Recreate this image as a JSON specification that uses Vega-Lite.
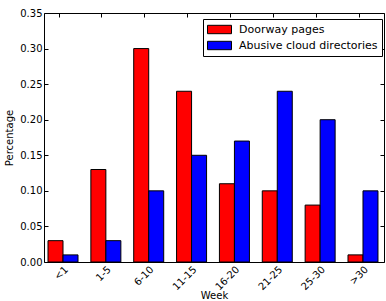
{
  "$schema": "https://vega.github.io/schema/vega-lite/v6.json",
  "width": 340,
  "height": 249,
  "autosize": "none",
  "padding": {"left": 44, "top": 13, "right": 2, "bottom": 39},
  "background": "white",
  "config": {
    "font": "DejaVu Sans",
    "view": {"stroke": "black", "strokeWidth": 1},
    "axis": {"grid": false, "domain": false, "tickColor": "black", "labelColor": "black", "titleColor": "black", "labelFontSize": 10, "titleFontSize": 10, "titleFontWeight": "normal", "tickSize": -4, "labelPadding": 6}
  },
  "data": {
    "values": [
      {"week": "<1", "series": "Doorway pages", "value": 0.03},
      {"week": "<1", "series": "Abusive cloud directories", "value": 0.01},
      {"week": "1-5", "series": "Doorway pages", "value": 0.13},
      {"week": "1-5", "series": "Abusive cloud directories", "value": 0.03},
      {"week": "6-10", "series": "Doorway pages", "value": 0.30},
      {"week": "6-10", "series": "Abusive cloud directories", "value": 0.10},
      {"week": "11-15", "series": "Doorway pages", "value": 0.24},
      {"week": "11-15", "series": "Abusive cloud directories", "value": 0.15},
      {"week": "16-20", "series": "Doorway pages", "value": 0.11},
      {"week": "16-20", "series": "Abusive cloud directories", "value": 0.17},
      {"week": "21-25", "series": "Doorway pages", "value": 0.10},
      {"week": "21-25", "series": "Abusive cloud directories", "value": 0.24},
      {"week": "25-30", "series": "Doorway pages", "value": 0.08},
      {"week": "25-30", "series": "Abusive cloud directories", "value": 0.20},
      {"week": ">30", "series": "Doorway pages", "value": 0.01},
      {"week": ">30", "series": "Abusive cloud directories", "value": 0.10}
    ]
  },
  "encoding": {
    "x": {
      "field": "week", "type": "nominal",
      "sort": ["<1", "1-5", "6-10", "11-15", "16-20", "21-25", "25-30", ">30"],
      "scale": {"paddingInner": 0.3, "paddingOuter": 0.117, "align": 0.4}
    },
    "xOffset": {"field": "series", "type": "nominal", "sort": ["Doorway pages", "Abusive cloud directories"]},
    "y": {
      "field": "value", "type": "quantitative",
      "scale": {"domain": [0, 0.35], "nice": false, "zero": true}
    }
  },
  "layer": [
    {
      "mark": {"type": "bar", "stroke": "black", "strokeWidth": 1},
      "encoding": {
        "x": {
          "field": "week", "type": "nominal",
          "sort": ["<1", "1-5", "6-10", "11-15", "16-20", "21-25", "25-30", ">30"],
          "title": "Week",
          "axis": {"labelAngle": -45, "labelAlign": "right", "labelBaseline": "top", "bandPosition": 0.37, "titleY": 33, "titleBaseline": "middle"}
        },
        "y": {
          "field": "value", "type": "quantitative", "title": "Percentage",
          "axis": {"values": [0, 0.05, 0.1, 0.15, 0.2, 0.25, 0.3, 0.35], "format": ".2f", "labelPadding": 6, "titleX": -35, "titleY": 124.5, "titleBaseline": "middle"}
        },
        "fill": {
          "field": "series", "type": "nominal",
          "scale": {"domain": ["Doorway pages", "Abusive cloud directories"], "range": ["#ff0000", "#0000ff"]},
          "legend": {
            "title": null, "orient": "none", "legendX": 159, "legendY": 6,
            "strokeColor": "black", "fillColor": "white", "padding": 4,
            "symbolType": "M-1,-0.7L3,-0.7L3,0.7L-1,0.7Z", "symbolSize": 144,
            "symbolStrokeColor": "black", "symbolStrokeWidth": 1,
            "labelFontSize": 11, "labelColor": "black", "labelOffset": 19, "rowPadding": 3, "labelLimit": 300
          }
        }
      }
    },
    {
      "mark": {"type": "bar", "opacity": 0},
      "encoding": {
        "x": {
          "field": "week", "type": "nominal",
          "sort": ["<1", "1-5", "6-10", "11-15", "16-20", "21-25", "25-30", ">30"],
          "axis": {"labels": false, "title": null, "bandPosition": 0.37}
        },
        "y": {
          "field": "value", "type": "quantitative",
          "axis": {"labels": false, "title": null, "values": [0, 0.05, 0.1, 0.15, 0.2, 0.25, 0.3, 0.35]}
        }
      }
    }
  ],
  "resolve": {"axis": {"x": "independent", "y": "independent"}}
}
